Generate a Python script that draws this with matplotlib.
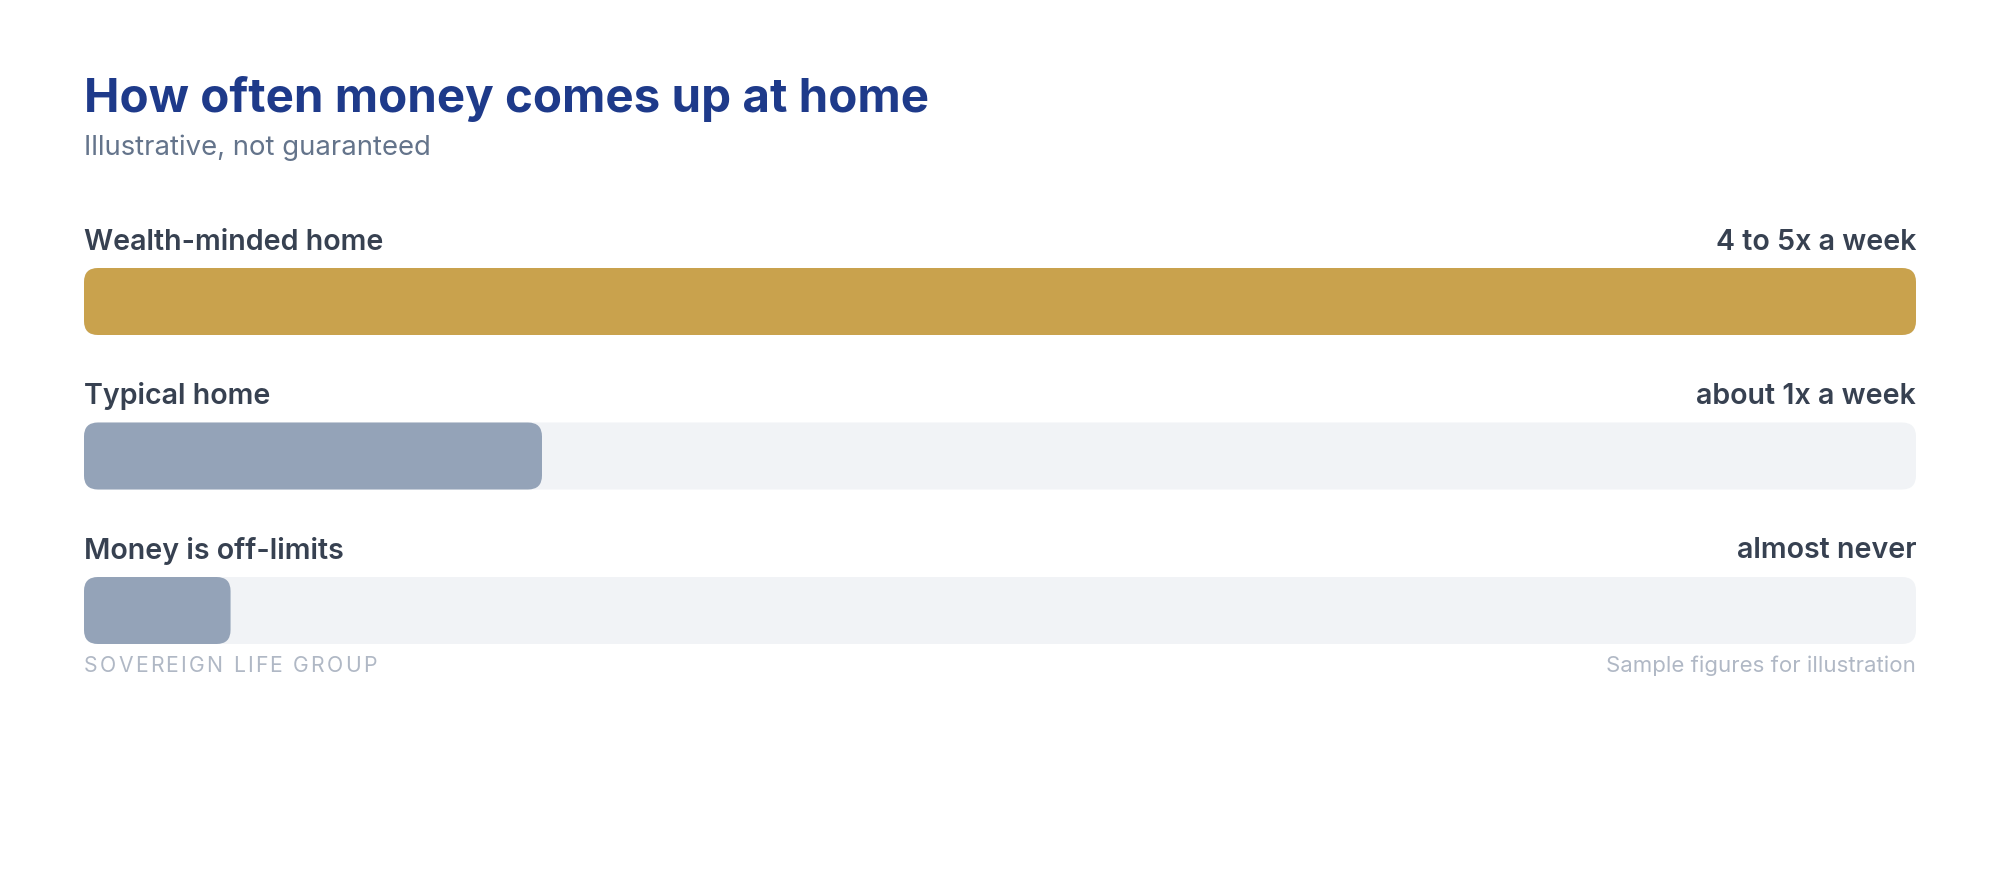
import numpy as np
import matplotlib
matplotlib.use("Agg")
from matplotlib import pyplot as plt
from matplotlib.patches import FancyBboxPatch

plt.rcParams['font.family'] = ['Inter', 'DejaVu Sans']

# Data
categories = ["Wealth-minded home", "Typical home", "Money is off-limits"]
value_labels = ["4 to 5x a week", "about 1x a week", "almost never"]
values = [100, 25, 8]          # share of the top bar, in percent
bar_colors = ["#C9A24D", "#94A3B8", "#94A3B8"]
track_color = "#F1F3F6"

title = "How often money comes up at home"
subtitle = "Illustrative, not guaranteed"
footer_left = "SOVEREIGN LIFE GROUP"
footer_right = "Sample figures for illustration"

W, H, DPI = 2000, 880, 200
fig = plt.figure(figsize=(W / DPI, H / DPI), dpi=DPI)
fig.patch.set_facecolor("white")

left_px, right_px = 84, 1916
ax = fig.add_axes([left_px / W, 0, (right_px - left_px) / W, 1])
ax.set_xlim(0, 100)
ax.set_ylim(H, 0)
ax.axis("off")

x_per_px = 100 / (right_px - left_px)
radius_px = 14
bar_h = 67
first_top = 268
step = 154.5

for i, (cat, lab, v, c) in enumerate(zip(categories, value_labels, values, bar_colors)):
    top = first_top + step * i
    # background track
    track = FancyBboxPatch((0, top), 100, bar_h,
                           boxstyle=f"round,pad=0,rounding_size={radius_px * x_per_px}",
                           mutation_aspect=1 / x_per_px,
                           facecolor=track_color, edgecolor="none")
    ax.add_patch(track)
    fill = FancyBboxPatch((0, top), v, bar_h,
                          boxstyle=f"round,pad=0,rounding_size={radius_px * x_per_px}",
                          mutation_aspect=1 / x_per_px,
                          facecolor=c, edgecolor="none")
    ax.add_patch(fill)
    ax.text(0, top - 26, cat, ha="left", va="center", fontsize=10.3,
            fontweight="semibold", color="#374151")
    ax.text(100, top - 26, lab, ha="right", va="center", fontsize=10.3,
            fontweight="semibold", color="#374151")

# Title and subtitle
fig.text(left_px / W, 1 - 99 / H, title, ha="left", va="center", fontsize=17.1,
         fontweight="bold", color="#1E3A8A")
fig.text(left_px / W, 1 - 148 / H, subtitle, ha="left", va="center", fontsize=9.9,
         color="#64748B")

# Footer: letter-spaced left text
renderer = fig.canvas.get_renderer()
foot_fs = 7.6
foot_y = 1 - 666 / H
probe_a = fig.text(0, 0, "AA", fontsize=foot_fs)
probe_b = fig.text(0, 0, "A A", fontsize=foot_fs)
space_w = probe_b.get_window_extent(renderer).width - probe_a.get_window_extent(renderer).width
probe_a.remove()
probe_b.remove()

x_cur = left_px
for ch in footer_left:
    if ch == " ":
        w = space_w
    else:
        t = fig.text(x_cur / W, foot_y, ch, ha="left", va="center", fontsize=foot_fs,
                     color="#B0B8C5")
        w = t.get_window_extent(renderer).width
    x_cur += w + 2.2

fig.text(right_px / W, foot_y, footer_right, ha="right", va="center", fontsize=8.0,
         color="#B0B8C5")

fig.savefig("out.png", dpi=DPI, facecolor="white")
